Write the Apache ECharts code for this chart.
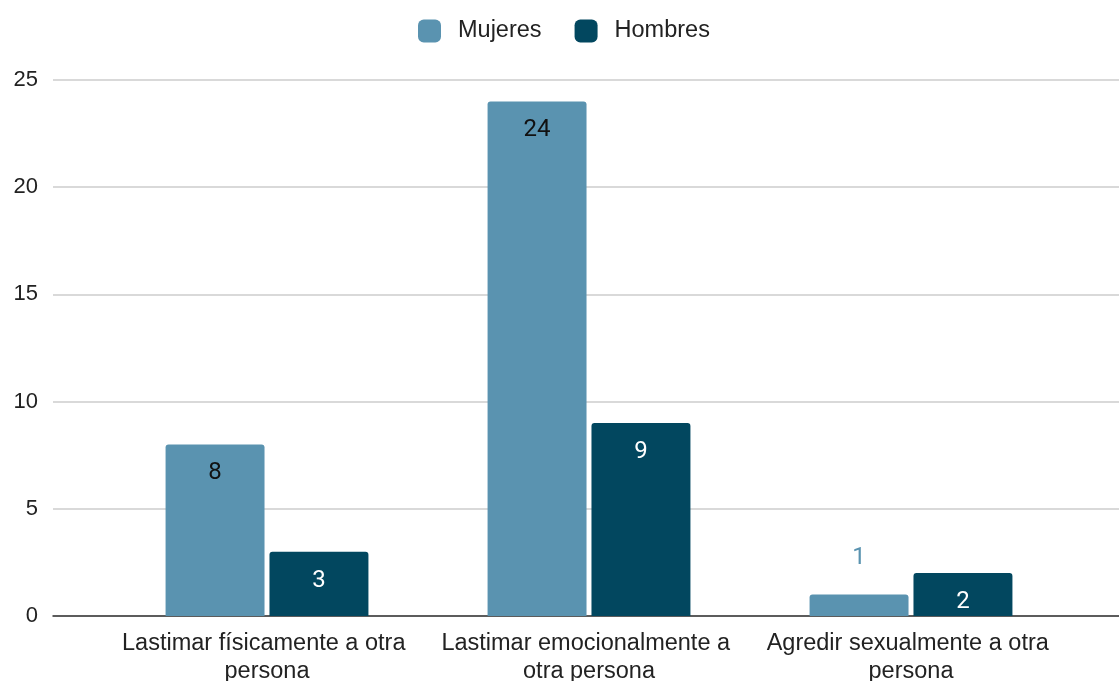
<!DOCTYPE html>
<html>
<head>
<meta charset="utf-8">
<script src="https://cdn.jsdelivr.net/npm/echarts@6/dist/echarts.min.js"></script>
<style>
  html, body { margin: 0; padding: 0; background: #fff; }
  #chart { width: 1119px; height: 681px; }
</style>
</head>
<body>
<div id="chart"></div>
<script>
  // datos
  const categories = ['Lastimar físicamente a otra persona', 'Lastimar emocionalmente a otra persona', 'Agredir sexualmente a otra persona']
  const seriesNames = ['Mujeres', 'Hombres']
  const mujeres = [8, 24, 1]
  const hombres = [3, 9, 2]
  const yMin = 0
  const yMax = 25
  const yStep = 5

  const colors = ['#5a93b0', '#02475f']
  const insideLabelColors = ['#111', '#fff']
  const font = '"Liberation Sans", Arial, sans-serif'
  const labelFont = 'Roboto, "Noto Sans", sans-serif'

  // barras pequeñas llevan la etiqueta por encima
  const toData = (values, i) => values.map(v => {
    if (v < 1.5) {
      return { value: v, label: { position: 'top', distance: 25, color: colors[i] } }
    }
    return v
  })

  const chart = echarts.init(document.getElementById('chart'))
  const option = {
    backgroundColor: '#fff',
    textStyle: { fontFamily: font },
    legend: {
      top: 14,
      left: 413,
      itemWidth: 23,
      itemHeight: 23,
      itemGap: 33,
      icon: 'roundRect',
      textStyle: { fontSize: 23.5, color: '#222', fontFamily: font, padding: [0, 0, 0, 12] },
      data: seriesNames
    },
    grid: [
      { left: 53, right: 0, top: 80, bottom: 65, outerBoundsMode: 'none' },
      { left: 106, right: 47, top: 80, bottom: 65, outerBoundsMode: 'none' }
    ],
    xAxis: [
      {
        type: 'value', gridIndex: 0, min: 0, max: 1,
        axisLine: { show: true, onZero: false, lineStyle: { color: '#333', width: 1.5 } },
        axisTick: { show: false }, axisLabel: { show: false }, splitLine: { show: false }
      },
      {
        type: 'category', gridIndex: 1, data: categories,
        axisLine: { show: false }, axisTick: { show: false },
        axisLabel: {
          interval: 0, fontSize: 23.5, color: '#222', margin: 14,
          width: 315, overflow: 'break', lineHeight: 28, fontFamily: font
        }
      }
    ],
    yAxis: [
      {
        type: 'value', gridIndex: 0, min: yMin, max: yMax, interval: yStep,
        axisLine: { show: false }, axisTick: { show: false },
        axisLabel: { fontSize: 22, color: '#222', margin: 15, fontFamily: font },
        splitLine: { lineStyle: { color: '#cccccc', width: 1.5 } }
      },
      {
        type: 'value', gridIndex: 1, min: yMin, max: yMax, interval: yStep,
        show: false, splitLine: { show: false }
      }
    ],
    series: [mujeres, hombres].map((values, i) => ({
      name: seriesNames[i],
      type: 'bar',
      xAxisIndex: 1,
      yAxisIndex: 1,
      barGap: '5%',
      barCategoryGap: '37%',
      itemStyle: { color: colors[i], borderRadius: [3, 3, 0, 0] },
      label: {
        show: true, position: 'insideTop', distance: 17,
        fontSize: 24, color: insideLabelColors[i], fontFamily: labelFont
      },
      data: toData(values, i)
    }))
  }
  chart.setOption(option)
</script>
</body>
</html>
